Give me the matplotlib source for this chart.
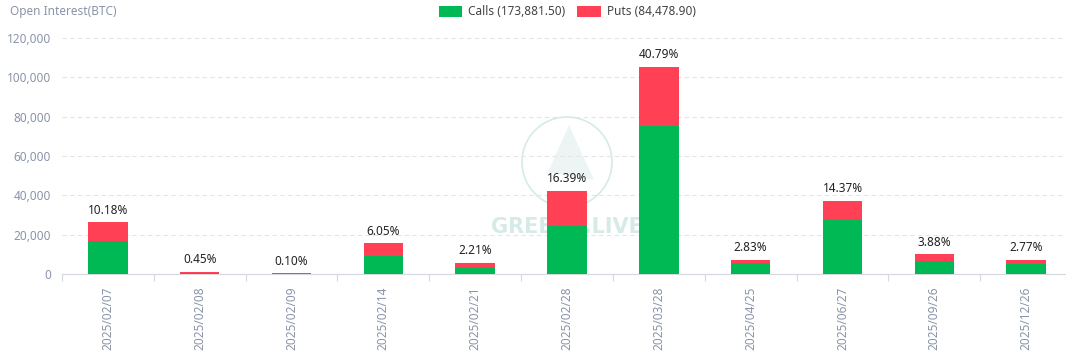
import numpy as np
import matplotlib
matplotlib.use('Agg')
import matplotlib.pyplot as plt
from matplotlib.patches import Ellipse, Polygon

plt.rcParams['font.family'] = ['Noto Sans', 'DejaVu Sans']

# data
expiries = ['2025/02/07', '2025/02/08', '2025/02/09', '2025/02/14', '2025/02/21',
            '2025/02/28', '2025/03/28', '2025/04/25', '2025/06/27', '2025/09/26',
            '2025/12/26']
calls = [16800, 620, 150, 9150, 3200, 24400, 75200, 5700, 27600, 6600, 4900]
puts = [9500, 540, 110, 6480, 2510, 17950, 30190, 1610, 9530, 3420, 2260]
pct_labels = ['10.18%', '0.45%', '0.10%', '6.05%', '2.21%', '16.39%', '40.79%',
              '2.83%', '14.37%', '3.88%', '2.77%']
calls_total = '173,881.50'
puts_total = '84,478.90'

GREEN = '#00b954'
RED = '#ff4055'
GRAY = '#8a93a8'
WATER = '#d6ebe7'

W, H = 1066, 353
fig = plt.figure(figsize=(W / 100, H / 100), dpi=100)
ax = fig.add_axes([62 / W, 79 / H, 1010 / W, 236 / H])

# watermark behind everything
fig.patches.append(Ellipse((567 / W, 1 - 162 / H), 90 / W, 90 / H, transform=fig.transFigure,
                           fill=False, edgecolor=WATER, linewidth=1.2, zorder=-2))
fig.patches.append(Polygon([[548 / W, 1 - 172 / H], [569 / W, 1 - 125 / H],
                            [594 / W, 1 - 180 / H]], closed=True,
                           transform=fig.transFigure, facecolor=WATER, alpha=0.45,
                           edgecolor='none', zorder=-2))
ax.set_facecolor('none')
ax.text(567 / W, 1 - 227 / H, 'GREEKS.LIVE', transform=fig.transFigure,
        ha='center', va='center', fontsize=15, fontweight='bold',
        family='DejaVu Sans', color=WATER, zorder=1)

x = np.arange(len(expiries))
calls = np.array(calls)
puts = np.array(puts)
ax.bar(x, calls, width=0.43, color=GREEN, label=f'Calls ({calls_total})', zorder=3)
ax.bar(x, puts, width=0.43, bottom=calls, color=RED, label=f'Puts ({puts_total})', zorder=3)

for xi, tot, lab in zip(x, calls + puts, pct_labels):
    ax.annotate(lab, (xi, tot), xytext=(0, 4), textcoords='offset points',
                ha='center', va='bottom', fontsize=8.5, color='#222222', zorder=5)

ax.set_xlim(-0.5, len(expiries) - 0.5)
ax.set_ylim(0, 120000)
ax.set_yticks(np.arange(0, 120001, 20000))
ax.yaxis.set_major_formatter(matplotlib.ticker.FuncFormatter(lambda v, p: f'{int(v):,}'))
ax.grid(axis='y', color='#e3e5ea', linestyle=(0, (4, 3)), linewidth=0.8, zorder=0)
ax.tick_params(axis='y', length=0, pad=8, labelsize=8.5, labelcolor=GRAY)

ax.set_xticks(x)
ax.set_xticklabels(expiries, rotation=90, fontsize=8.5, color=GRAY)
ax.set_xticks(np.arange(-0.5, len(expiries), 1), minor=True)
ax.tick_params(axis='x', which='major', length=0, pad=9)
ax.tick_params(axis='x', which='minor', length=5, color='#d5d8df', width=0.8)

for s in ['top', 'right', 'left']:
    ax.spines[s].set_visible(False)
ax.spines['bottom'].set_color('#d5d8df')
ax.spines['bottom'].set_linewidth(0.8)

fig.text(10 / W, 1 - 12 / H, 'Open Interest(BTC)', fontsize=8.5, color=GRAY,
         ha='left', va='center')
fig.legend(loc='upper center', bbox_to_anchor=(567 / W, 1.015), ncol=2, frameon=False,
           fontsize=8.5, handlelength=2.0, handleheight=1.0, columnspacing=1.0,
           handletextpad=0.5, labelcolor='#444444')

fig.savefig('out.png', dpi=100)
